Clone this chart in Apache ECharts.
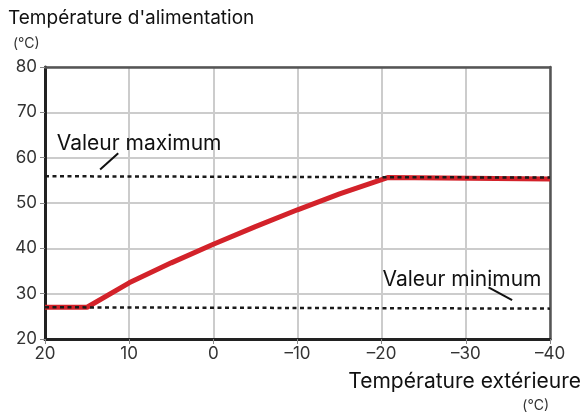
<!DOCTYPE html>
<html><head><meta charset="utf-8">
<script src="https://cdn.jsdelivr.net/npm/echarts@6/dist/echarts.min.js"></script>
<style>html,body{margin:0;padding:0;background:#fff}#c{width:584px;height:414px}</style>
</head><body><div id="c"></div>
<script>
const outdoorTemps = [20, 15, 10, 5, 0, -5, -10, -15, -20.7, -40];
const supplyTemps  = [27.0, 27.0, 32.4, 36.8, 40.9, 44.8, 48.5, 52.0, 55.6, 55.3];
const maxLineX = [20, -40];
const maxLineY = [55.9, 55.6];
const minLineX = [20, -40];
const minLineY = [27.0, 26.7];
const xTicks = [20, 10, 0, -10, -20, -30, -40];
const yTicks = [20, 30, 40, 50, 60, 70, 80];
const titleText = "Température d'alimentation";
const unitText = "(°C)";
const xTitleText = "Température extérieure";
const maxLabel = "Valeur maximum";
const minLabel = "Valeur minimum";

const FONT = "Inter";
const chart = echarts.init(document.getElementById('c'), null, {renderer: 'canvas'});
const zip = (xs, ys) => xs.map((x, i) => [x, ys[i]]);
const xMin = xTicks[xTicks.length - 1], xMax = xTicks[0];
const yMin = yTicks[0], yMax = yTicks[yTicks.length - 1];

chart.setOption({
  animation: false,
  backgroundColor: '#fff',
  grid: {left: 45, right: 34, top: 67, bottom: 75, show: false},
  xAxis: [{
    type: 'value', inverse: true, min: xMin, max: xMax, interval: 10,
    axisLine: {show: true, onZero: false, lineStyle: {color: '#222', width: 3}},
    axisTick: {show: true, length: 5, lineStyle: {color: '#888', width: 1}},
    splitLine: {show: true, lineStyle: {color: '#ccc', width: 2}},
    axisLabel: {color: '#333', fontSize: 17, fontFamily: FONT, margin: 6,
      formatter: v => v < 0 ? '–' + Math.abs(v) : String(v)}
  }, {
    type: 'value', position: 'top', inverse: true, min: xMin, max: xMax, interval: 10,
    axisLine: {show: true, onZero: false, lineStyle: {color: '#555', width: 2.5}},
    axisTick: {show: false}, axisLabel: {show: false}, splitLine: {show: false}
  }],
  yAxis: [{
    type: 'value', min: yMin, max: yMax, interval: 10,
    axisLine: {show: true, onZero: false, lineStyle: {color: '#222', width: 3}},
    axisTick: {show: true, length: 5, lineStyle: {color: '#888', width: 1}},
    splitLine: {show: true, lineStyle: {color: '#bbb', width: 1.5}},
    axisLabel: {color: '#333', fontSize: 17, fontFamily: FONT, margin: 8}
  }, {
    type: 'value', position: 'right', min: yMin, max: yMax, interval: 10,
    axisLine: {show: true, onZero: false, lineStyle: {color: '#555', width: 2.5}},
    axisTick: {show: false}, axisLabel: {show: false}, splitLine: {show: false}
  }],
  series: [
    {type: 'line', data: zip(outdoorTemps, supplyTemps), symbol: 'none', z: 3,
      lineStyle: {color: '#d3222a', width: 5}},
    {type: 'line', data: zip(maxLineX, maxLineY), symbol: 'none', z: 4,
      lineStyle: {color: '#1a1a1a', width: 2.5, type: [4, 3.5]}},
    {type: 'line', data: zip(minLineX, minLineY), symbol: 'none', z: 4,
      lineStyle: {color: '#1a1a1a', width: 2.5, type: [4, 3.5]}}
  ]
});

const p = (x, y) => chart.convertToPixel({xAxisIndex: 0, yAxisIndex: 0}, [x, y]);
const a1 = p(13.45, 57.4), a2 = p(11.3, 61.0);
const b1 = p(-32.7, 31.4), b2 = p(-35.5, 28.6);
const mt = p(18.6, 63.2), nt = p(-20.1, 33.4);

chart.setOption({
  graphic: [
    {type: 'text', left: 8, top: 9, style: {text: titleText, font: '19px ' + FONT, fill: '#111'}},
    {type: 'text', left: 13, top: 37, style: {text: unitText, font: '14px ' + FONT, fill: '#333'}},
    {type: 'text', right: 3, top: 371, style: {text: xTitleText, font: '21px ' + FONT, fill: '#111'}},
    {type: 'text', right: 35, top: 399, style: {text: unitText, font: '14px ' + FONT, fill: '#333'}},
    {type: 'text', x: mt[0], y: mt[1] + 1, style: {text: maxLabel, font: '21px ' + FONT, fill: '#111', verticalAlign: 'middle'}, z: 10},
    {type: 'text', x: nt[0], y: nt[1] + 1, style: {text: minLabel, font: '21px ' + FONT, fill: '#111', verticalAlign: 'middle'}, z: 10},
    {type: 'line', shape: {x1: a1[0], y1: a1[1], x2: a2[0], y2: a2[1]}, style: {stroke: '#111', lineWidth: 2}, z: 10},
    {type: 'line', shape: {x1: b1[0], y1: b1[1], x2: b2[0], y2: b2[1]}, style: {stroke: '#111', lineWidth: 2}, z: 10}
  ]
});
</script></body></html>
